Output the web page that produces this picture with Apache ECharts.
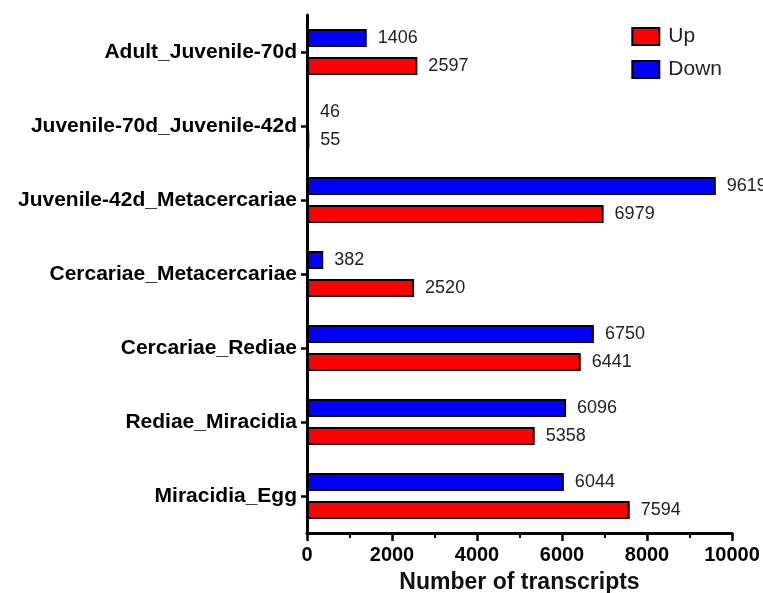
<!DOCTYPE html>
<html><head><meta charset="utf-8">
<script src="https://cdn.jsdelivr.net/npm/echarts@6/dist/echarts.min.js"></script>
<style>html,body{margin:0;padding:0;background:#fff;}#c{width:763px;height:593px;}</style>
</head><body><div id="c"></div>
<script>
const categories = ["Miracidia_Egg","Rediae_Miracidia","Cercariae_Rediae","Cercariae_Metacercariae","Juvenile-42d_Metacercariae","Juvenile-70d_Juvenile-42d","Adult_Juvenile-70d"];
const upValues = [7594,5358,6441,2520,6979,55,2597];
const downValues = [6044,6096,6750,382,9619,46,1406];
const xTicks = [0,2000,4000,6000,8000,10000];

const chart = echarts.init(document.getElementById('c'), null, {renderer:'canvas'});
const font = 'Liberation Sans, Arial, sans-serif';
const labelCfg = {show:true, position:'right', distance:11, color:'#222', fontSize:18, fontFamily:font};
chart.setOption({
  animation:false,
  grid:{left:307, right:31, top:15, bottom:60, containLabel:false, outerBoundsMode:'none'},
  legend:{
    orient:'vertical', right:36, top:21, itemWidth:27, itemHeight:17, itemGap:12,
    icon:'rect',
    itemStyle:{borderColor:'#000', borderWidth:2},
    textStyle:{fontSize:21, fontFamily:font, color:'#222', padding:[0,0,0,4]},
    data:['Up','Down']
  },
  xAxis:{
    type:'value', min:xTicks[0], max:xTicks[xTicks.length-1], interval:2000,
    axisLine:{show:true, lineStyle:{color:'#000', width:3}},
    axisTick:{show:true, length:8, lineStyle:{color:'#000', width:2.5}},
    minorTick:{show:true, splitNumber:2, length:5, lineStyle:{color:'#000', width:2}},
    splitLine:{show:false},
    axisLabel:{color:'#000', fontSize:20, fontWeight:'bold', fontFamily:font, margin:12,
      formatter:function(v){return String(v);}},
    name:'Number of transcripts', nameLocation:'middle', nameGap:38,
    nameTextStyle:{color:'#111', fontSize:23, fontWeight:'bold', fontFamily:font}
  },
  yAxis:{
    type:'category', data:categories,
    axisLine:{show:true, lineStyle:{color:'#000', width:3}},
    axisTick:{show:true, alignWithLabel:true, length:6, lineStyle:{color:'#000', width:2.5}},
    axisLabel:{color:'#000', fontSize:21, fontWeight:'bold', fontFamily:font, margin:10}
  },
  series:[
    {name:'Down', type:'bar', data:downValues, barWidth:18, barGap:'55%',
     itemStyle:{color:'#0000FF', borderColor:'#000', borderWidth:2}, label:labelCfg},
    {name:'Up', type:'bar', data:upValues, barWidth:18, barGap:'55%',
     itemStyle:{color:'#FF0000', borderColor:'#000', borderWidth:2}, label:labelCfg}
  ]
});
</script></body></html>
